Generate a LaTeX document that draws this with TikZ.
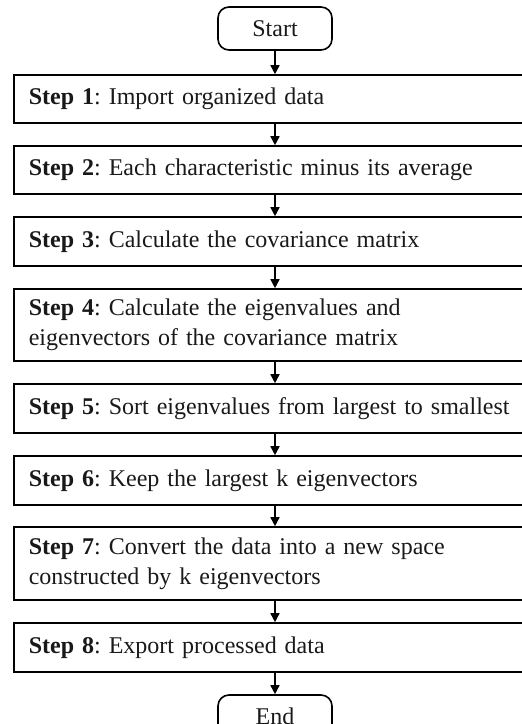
\documentclass[tikz,border=0pt]{standalone}
\usepackage{fontspec}
\setmainfont{Liberation Serif}
\usetikzlibrary{arrows.meta}
\tikzset{
  stepbox/.style={draw, line width=1.6pt, anchor=west, text width=530pt, inner xsep=15pt, inner ysep=0pt, align=left, font=\fontsize{24}{30}\selectfont\frenchspacing, text=black!90},
  term/.style={draw, line width=1.6pt, rounded corners=11pt, minimum width=114pt, minimum height=43pt, inner sep=0pt, font=\fontsize{24}{30}\selectfont, text=black!90},
  flow/.style={line width=1.5pt, -{Triangle[width=9pt,length=9pt]}}
}
\begin{document}
\begin{tikzpicture}[x=1pt,y=-1pt]
\useasboundingbox (0,0) rectangle (522,724);
\clip (0,0) rectangle (522,724);
\node[term] (start) at (275,28.5) {Start};
\node[stepbox, minimum height=48pt] (b1) at (13,99) {\textbf{Step 1}: Import organized data};
\node[stepbox, minimum height=48pt] (b2) at (13,170) {\textbf{Step 2}: Each characteristic minus its average};
\node[stepbox, minimum height=49pt] (b3) at (13,241.5) {\textbf{Step 3}: Calculate the covariance matrix};
\node[stepbox, minimum height=72pt] (b4) at (13,325) {\textbf{Step 4}: Calculate the eigenvalues and\\eigenvectors of the covariance matrix};
\node[stepbox, minimum height=49pt] (b5) at (13,408.5) {\textbf{Step 5}: Sort eigenvalues from largest to smallest};
\node[stepbox, minimum height=49pt] (b6) at (13,480.5) {\textbf{Step 6}: Keep the largest k eigenvectors};
\node[stepbox, minimum height=73pt] (b7) at (13,563.5) {\textbf{Step 7}: Convert the data into a new space\\constructed by k eigenvectors};
\node[stepbox, minimum height=49pt] (b8) at (13,647.5) {\textbf{Step 8}: Export processed data};
\node[term] (end) at (275,716.5) {End};
\draw[flow] (start) -- (b1.north -| start);
\draw[flow] (b1.south -| start) -- (b2.north -| start);
\draw[flow] (b2.south -| start) -- (b3.north -| start);
\draw[flow] (b3.south -| start) -- (b4.north -| start);
\draw[flow] (b4.south -| start) -- (b5.north -| start);
\draw[flow] (b5.south -| start) -- (b6.north -| start);
\draw[flow] (b6.south -| start) -- (b7.north -| start);
\draw[flow] (b7.south -| start) -- (b8.north -| start);
\draw[flow] (b8.south -| start) -- (end);
\end{tikzpicture}
\end{document}
